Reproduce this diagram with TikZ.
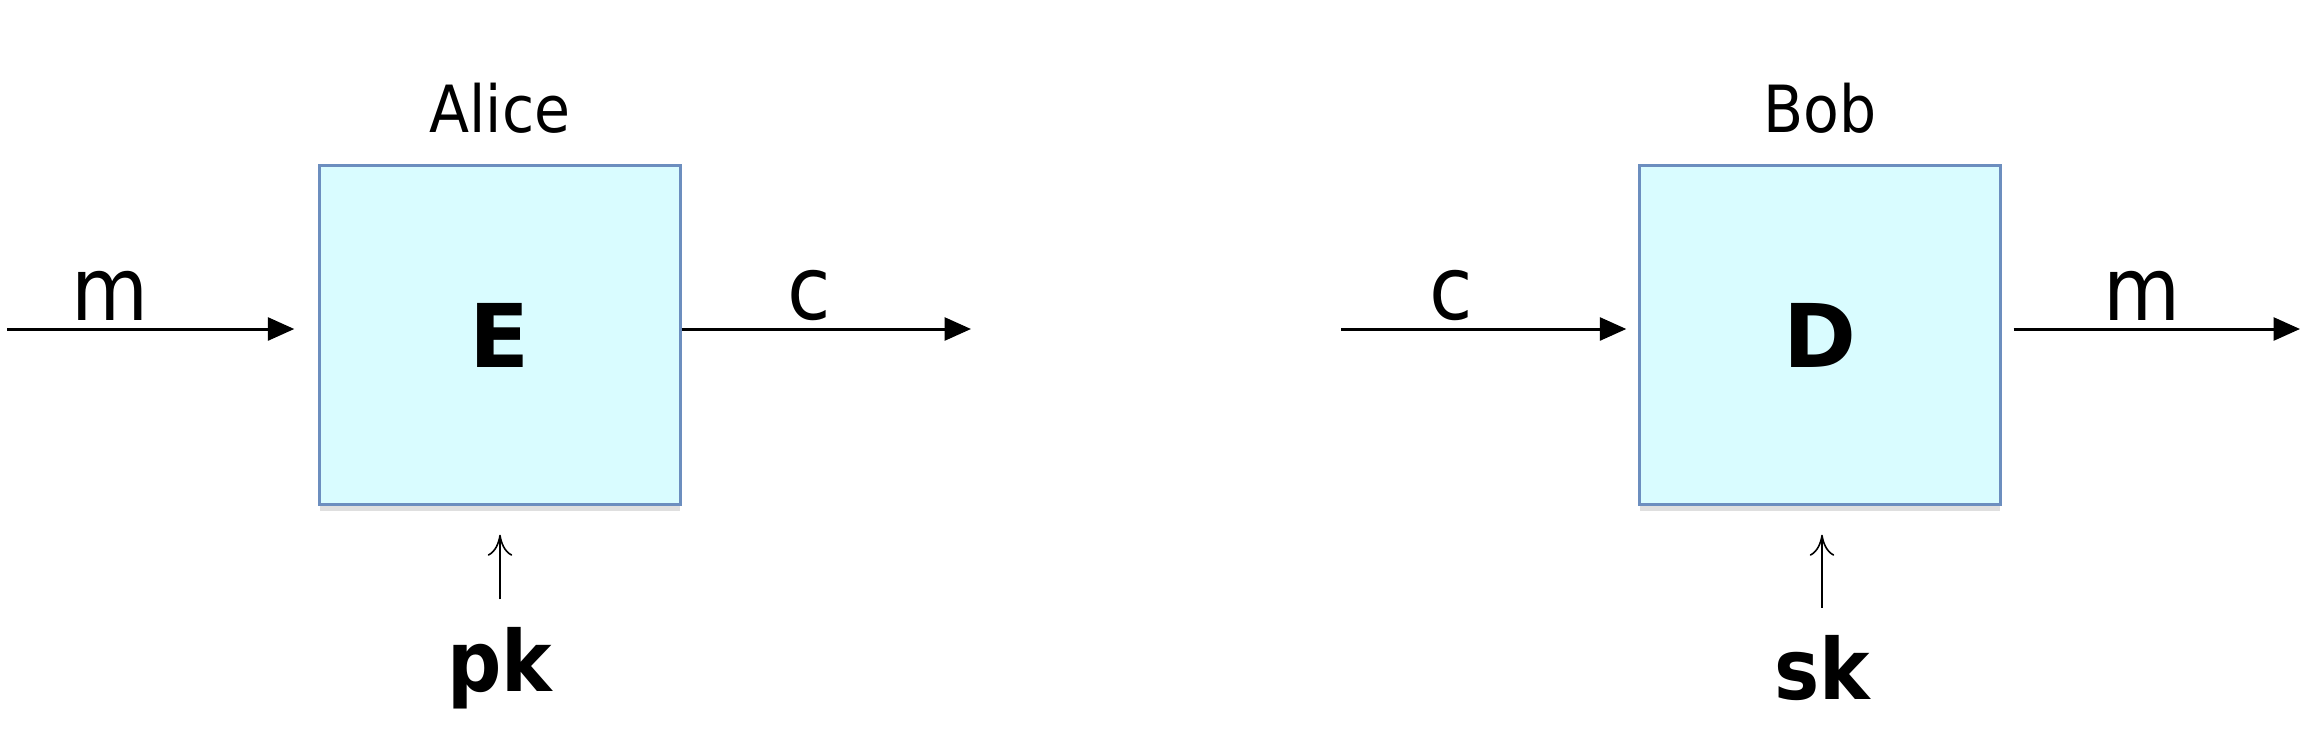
\documentclass[tikz,border=0pt]{standalone}
\usepackage{fontspec}
\setmainfont{DejaVu Sans Condensed}
\newfontfamily\wide{DejaVu Sans}
\usetikzlibrary{arrows.meta,positioning,shadows}
\definecolor{boxfill}{RGB}{217,252,255}
\definecolor{boxline}{RGB}{108,142,191}

\begin{document}
\begin{tikzpicture}[x=0.01cm,y=-0.01cm,
  every node/.style={inner sep=0pt},
  box/.style={draw=boxline,line width=0.9pt,fill=boxfill,
    minimum width=3.6cm,minimum height=3.38cm,
    drop shadow={shadow xshift=0pt,shadow yshift=-0.7mm,opacity=0.25},
    font=\wide\fontsize{25}{28}\selectfont\bfseries},
  who/.style={font=\fontsize{18.5}{22}\selectfont},
  lab/.style={font=\fontsize{25}{28}\selectfont,inner sep=2pt},
  key/.style={font=\fontsize{24}{28}\selectfont\bfseries},
  flow/.style={-{Triangle[length=7.5pt,width=6.5pt]},line width=0.85pt},
  thin/.style={-{To[length=6pt,width=7pt]},line width=0.45pt}]
\useasboundingbox (0,0) rectangle (2324,736);
% encryption at Alice
\node[box] (enc) at (500,335) {\raisebox{-0.1cm}{E}};
\node[who,above=3mm of enc] (alice) {Alice};
\coordinate (min) at (7,329);
\coordinate (cout) at (971,329);
\node[key] (pk) at (500,668) {pk};
\draw[flow,shorten >=0.24cm] (min) -- node[lab,above,pos=0.33] {m} (enc.west |- min);
\draw[flow] (enc.east |- cout) -- node[lab,above,pos=0.44] {c} (cout);
\draw[thin,shorten <=0.27cm,shorten >=0.29cm] (pk.north) -- (pk.north |- enc.south);
% decryption at Bob
\node[box] (dec) at (1820,335) {\raisebox{-0.1cm}{D}};
\node[who,above=3mm of dec] (bob) {Bob};
\coordinate (cin) at (1341,329);
\coordinate (mout) at (2300,329);
\node[key] (sk) at (1822,668) {sk};
\draw[flow,shorten >=0.12cm] (cin) -- node[lab,above,pos=0.37] {c} (dec.west |- cin);
\draw[flow,shorten <=0.12cm] (dec.east |- mout) -- node[lab,above,pos=0.47] {m} (mout);
\draw[thin,shorten <=0.27cm,shorten >=0.29cm] (sk.north) -- (sk.north |- dec.south);
\end{tikzpicture}
\end{document}
